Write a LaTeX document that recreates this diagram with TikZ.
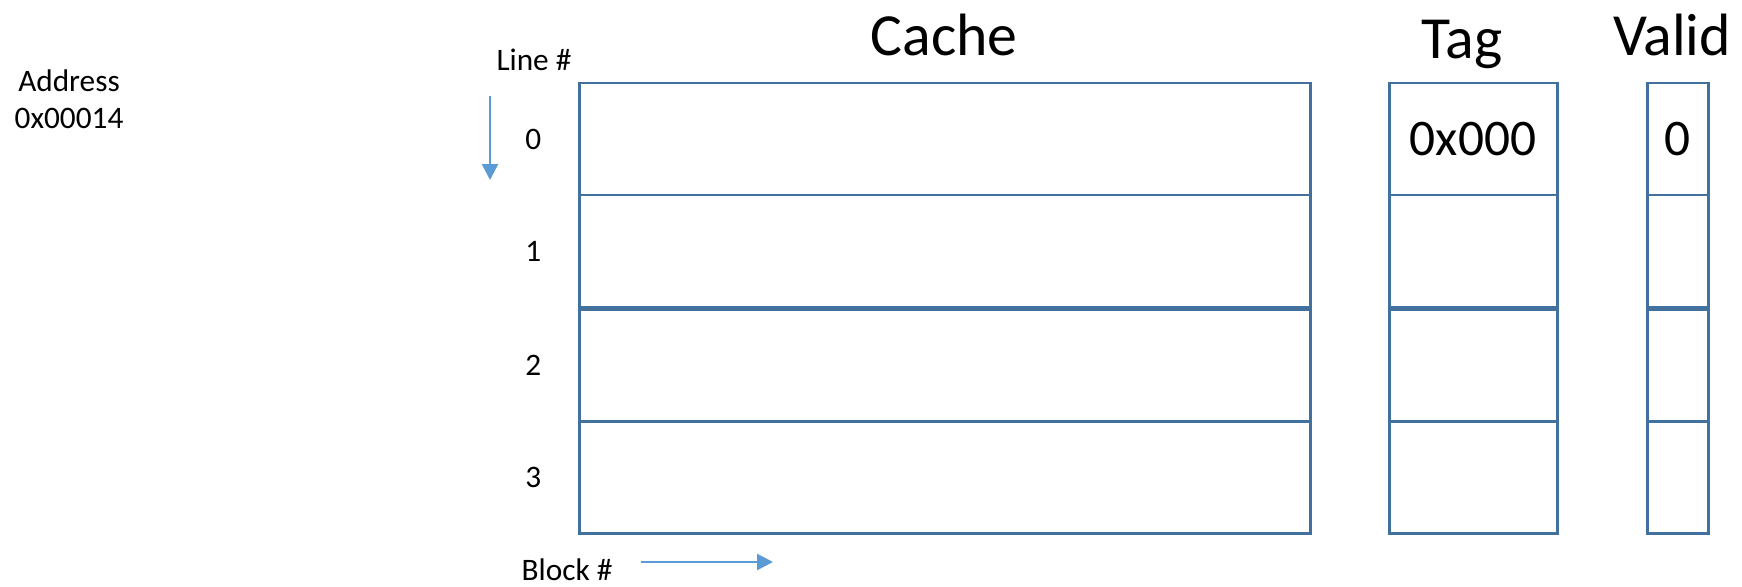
\documentclass[tikz,border=0pt]{standalone}
\usepackage{fontspec}
\setmainfont{Carlito}
\usepackage{xcolor}
\usepackage{tikz}
\usetikzlibrary{arrows.meta, positioning}
\definecolor{boxblue}{HTML}{41719C}
\definecolor{arrowblue}{HTML}{5B9BD5}
\tikzset{
  % Table styles
  cell/.style={rectangle, draw=boxblue, line width=0.85pt, outer sep=0pt, inner sep=0pt, minimum width=#1, minimum height=1.12cm, text centered},
  cell/.default={7.31cm},
  smalltext/.style={font=\fontsize{8.9}{10.5}\selectfont, inner sep=0pt},
  title/.style={font=\fontsize{17}{20}\selectfont, inner sep=0pt, anchor=base},
  value/.style={font=\fontsize{14.6}{17}\selectfont, inner sep=0pt},
  arrow/.style={-{Triangle[length=1.6mm, width=1.6mm]}, draw=arrowblue, fill=arrowblue, line width=0.75pt},
}

\begin{document}
\begin{tikzpicture}
    \useasboundingbox (0,0) rectangle (17.42,-5.86);
    % Columns: cache lines, tags, valid bits
    \foreach \col/\x/\w in {cache/5.79/7.31, tag/13.89/1.68, valid/16.47/0.61} {
      \node[cell=\w cm, anchor=north west] (\col0) at (\x,-0.83) {};
      \node[cell=\w cm, below=0pt of \col0] (\col1) {};
      \node[cell=\w cm, below=0.2mm of \col1] (\col2) {};
      \node[cell=\w cm, below=0pt of \col2] (\col3) {};
    }
    % Headings
    \node[title] (cachehdr) at (9.44,-0.55) {Cache};
    \node[title] (taghdr) at (14.62,-0.58) {Tag};
    \node[title] (validhdr) at (16.72,-0.55) {Valid};
    % Contents of line 0
    \node[value] (tagval) at (tag0) {0x000};
    \node[value] (validval) at (valid0) {0};
    % Line numbers
    \foreach \i in {0,...,3} {
      \node[smalltext, left=0.37cm of cache\i.west] (row\i) {\i};
    }
    \node[smalltext, anchor=base] (linehdr) at (5.34,-0.70) {Line \#};
    \coordinate (linestart) at (4.90,-0.96);
    \coordinate (lineend) at (4.90,-1.80);
    \draw[arrow] (linestart) -- (lineend);
    % Block direction
    \node[smalltext, anchor=base] (blockhdr) at (5.67,-5.80) {Block \#};
    \coordinate (blockstart) at (6.41,-5.62);
    \coordinate (blockend) at (7.73,-5.62);
    \draw[arrow] (blockstart) -- (blockend);
    % Address
    \node[smalltext, anchor=base] (addrhdr) at (0.69,-0.91) {Address};
    \node[smalltext, anchor=base] (addrval) at (0.69,-1.28) {0x00014};
  \end{tikzpicture}
\end{document}
